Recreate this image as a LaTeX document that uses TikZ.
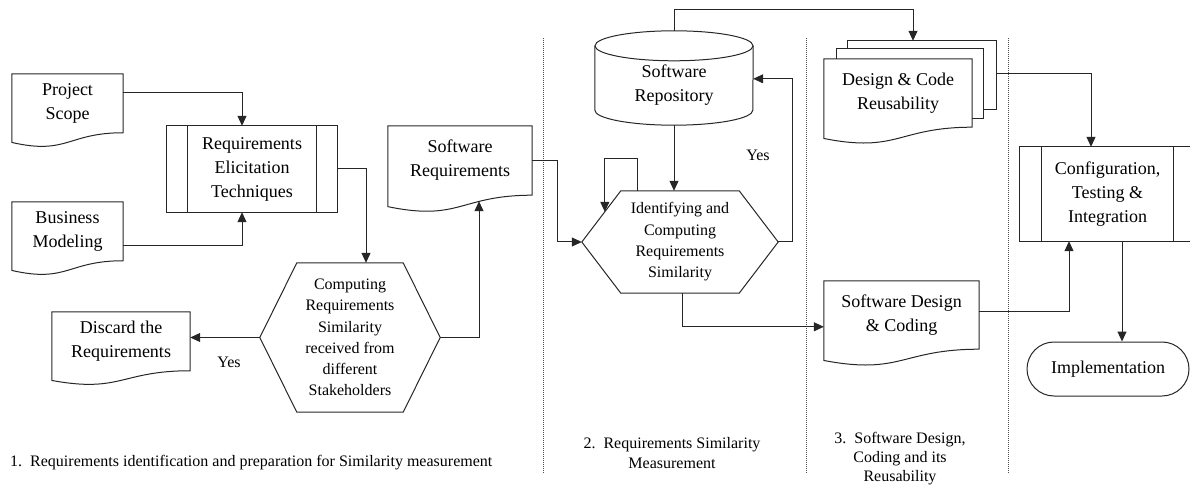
\documentclass[tikz,border=0pt]{standalone}
\usepackage{fontspec}
\setmainfont{Liberation Serif}
\usetikzlibrary{arrows.meta,calc}

% document symbol with a wavy bottom edge (node = upper rectangular part)
\newcommand{\docoutline}[1]{%
  \draw[shapeline] (#1.north west) -- (#1.north east) -- (#1.south east)
    .. controls (#1.south) and ($(#1.north)!1.381!(#1.south)$)
    .. ($(#1.north west)!1.1646!(#1.south west)$) -- cycle;}
% hexagon (preparation symbol) around a node
\newcommand{\hexoutline}[2]{%
  \draw[shapeline] (#1.west) -- ($(#1.north west)+(#2,0)$) -- ($(#1.north east)+(-#2,0)$)
    -- (#1.east) -- ($(#1.south east)+(-#2,0)$) -- ($(#1.south west)+(#2,0)$) -- cycle;}
% predefined process: box with two inner side bars
\newcommand{\procoutline}[2]{%
  \draw[shapeline] (#1.north west) rectangle (#1.south east);
  \draw[shapeline] ($(#1.north west)+(#2,0)$) -- ($(#1.south west)+(#2,0)$);
  \draw[shapeline] ($(#1.north east)+(-#2,0)$) -- ($(#1.south east)+(-#2,0)$);}

\tikzset{
  shapeline/.style={line width=1pt, draw=black!85},
  flow/.style={line width=1pt, draw=black!85, -{Triangle[length=10pt,width=9pt]}},
  sep/.style={line width=0.6pt, draw=black!70, dash pattern=on 1pt off 1pt},
  lbl/.style={inner sep=0pt, align=center, font=\fontsize{18}{24}\selectfont},
  small/.style={inner sep=0pt, align=center, font=\fontsize{16}{21.3}\selectfont},
  phasecaption/.style={inner sep=0pt, align=center, font=\fontsize{16}{20}\selectfont},
}

\begin{document}
\begin{tikzpicture}[x=1pt,y=-1pt]
\useasboundingbox (0,0) rectangle (1190,486);
\clip (0,0) rectangle (1190,486);

% phase separators
\draw[sep] (543,38) -- (543,473);
\draw[sep] (806,38) -- (806,473);
\draw[sep] (1008,38) -- (1008,473);

% ---- phase 1 ----
\node[lbl, minimum width=111pt, minimum height=58.5pt] (ps) at (67.5,103.3) {Project\\Scope};
\docoutline{ps}
\node[lbl, minimum width=111pt, minimum height=58.5pt] (bm) at (67.5,231.3) {Business\\Modeling};
\docoutline{bm}
\node[lbl, minimum width=170pt, minimum height=86pt] (req) at (252,169) {Requirements\\Elicitation\\Techniques};
\procoutline{req}{21}
\node[small, minimum width=180pt, minimum height=149pt] (chex) at (350,337.5)
  {Computing\\Requirements\\Similarity\\received from\\different\\Stakeholders};
\hexoutline{chex}{37}
\node[lbl, minimum width=138pt, minimum height=58.5pt] (disc) at (121,341.3) {Discard the\\Requirements};
\docoutline{disc}
\node[lbl, minimum width=144pt, minimum height=69pt] (sr) at (460,160.5) {Software\\Requirements};
\docoutline{sr}
\node[small] (yes1) at (229,362) {Yes};

% ---- phase 2 ----
\node[lbl, minimum width=158pt, minimum height=79pt] (repo) at (674,85.5) {Software\\Repository};
\draw[shapeline] (repo.north) ellipse [x radius=79pt, y radius=15pt];
\draw[shapeline] (repo.north west) -- ($(repo.south west)+(0,-15)$)
  arc [start angle=180, end angle=360, x radius=79pt, y radius=15pt] -- (repo.north east);
\node[small, minimum width=196pt, minimum height=102pt] (ihex) at (680,242)
  {Identifying and\\Computing\\Requirements\\Similarity};
\hexoutline{ihex}{39}
\node[small] (yes2) at (758,155) {Yes};

% ---- phase 3 ----
\node[lbl, minimum width=148pt, minimum height=68pt] (dcr) at (898,93) {Design \& Code\\Reusability};
\draw[shapeline] ($(dcr.north west)+(24,-10)$) -- ++(0,-8) -- ($(dcr.north east)+(24,-18)$)
  -- ($(dcr.north east)+(24,51)$) -- ($(dcr.north east)+(11,51)$);
\draw[shapeline] ($(dcr.north west)+(13,0)$) -- ++(0,-10) -- ($(dcr.north east)+(11,-10)$)
  -- ($(dcr.north east)+(11,60)$) -- ($(dcr.north east)+(0,60)$);
\docoutline{dcr}
\node[lbl, minimum width=155pt, minimum height=68pt] (sdc) at (901.5,315) {Software Design\\\& Coding};
\docoutline{sdc}

% ---- phase 4 ----
\node[lbl, minimum width=175pt, minimum height=94pt] (cfg) at (1107.5,194) {Configuration,\\Testing \&\\Integration};
\procoutline{cfg}{22}
\node[lbl, draw=black!85, line width=1pt, rounded corners=27pt, minimum width=162pt, minimum height=54pt]
  (impl) at (1108,369) {Implementation};

% ---- connectors ----
\draw[flow] ($(ps.north east)+(0,19)$) -| ($(req.north)+(-10,0)$);
\draw[flow] ($(bm.north east)+(0,44)$) -| ($(req.south)+(-10,0)$);
\draw[flow] (req.east) -| ($(chex.north)+(16,0)$);
\draw[flow] (chex.west) -- (chex.west -| disc.east);
\draw[flow] (chex.east) -| ($(sr.south)+(19,6)$);
\draw[flow] (sr.east) -- ++(25,0) |- (ihex.west);
\draw[flow] ($(ihex.north)+(-43,0)$) -- ++(0,-32) -| ($(ihex.north west)+(23,21)$);
\draw[flow] (repo.south) -- (repo.south |- ihex.north);
\draw[flow] (ihex.east) -- ++(14,0) |- ($(repo.north east)+(0,33)$);
\draw[flow] ($(repo.north)+(0,-15)$) -- ++(0,-21) -| ($(dcr.north)+(15,-18)$);
\draw[flow] ($(dcr.north east)+(24,15)$) -| ($(cfg.north)+(-16.5,0)$);
\draw[flow] ($(ihex.south)+(2,0)$) |- ($(sdc.north west)+(0,46)$);
\draw[flow] ($(sdc.north east)+(0,31)$) -| ($(cfg.south)+(-38.5,0)$);
\coordinate (cfgout) at ($(cfg.south)+(14.5,0)$);
\draw[flow] (cfgout) -- (cfgout |- impl.north);

% ---- phase captions ----
\node[phasecaption, anchor=west] (cap1) at (10,463) {1.\ \ Requirements identification and preparation for Similarity measurement};
\node[phasecaption] (cap2) at (672,453.5) {2.\ \ Requirements Similarity\\Measurement};
\node[phasecaption, font=\fontsize{16}{19}\selectfont] (cap3) at (900,459) {3.\ \ Software Design,\\Coding and its\\Reusability};
\end{tikzpicture}
\end{document}
